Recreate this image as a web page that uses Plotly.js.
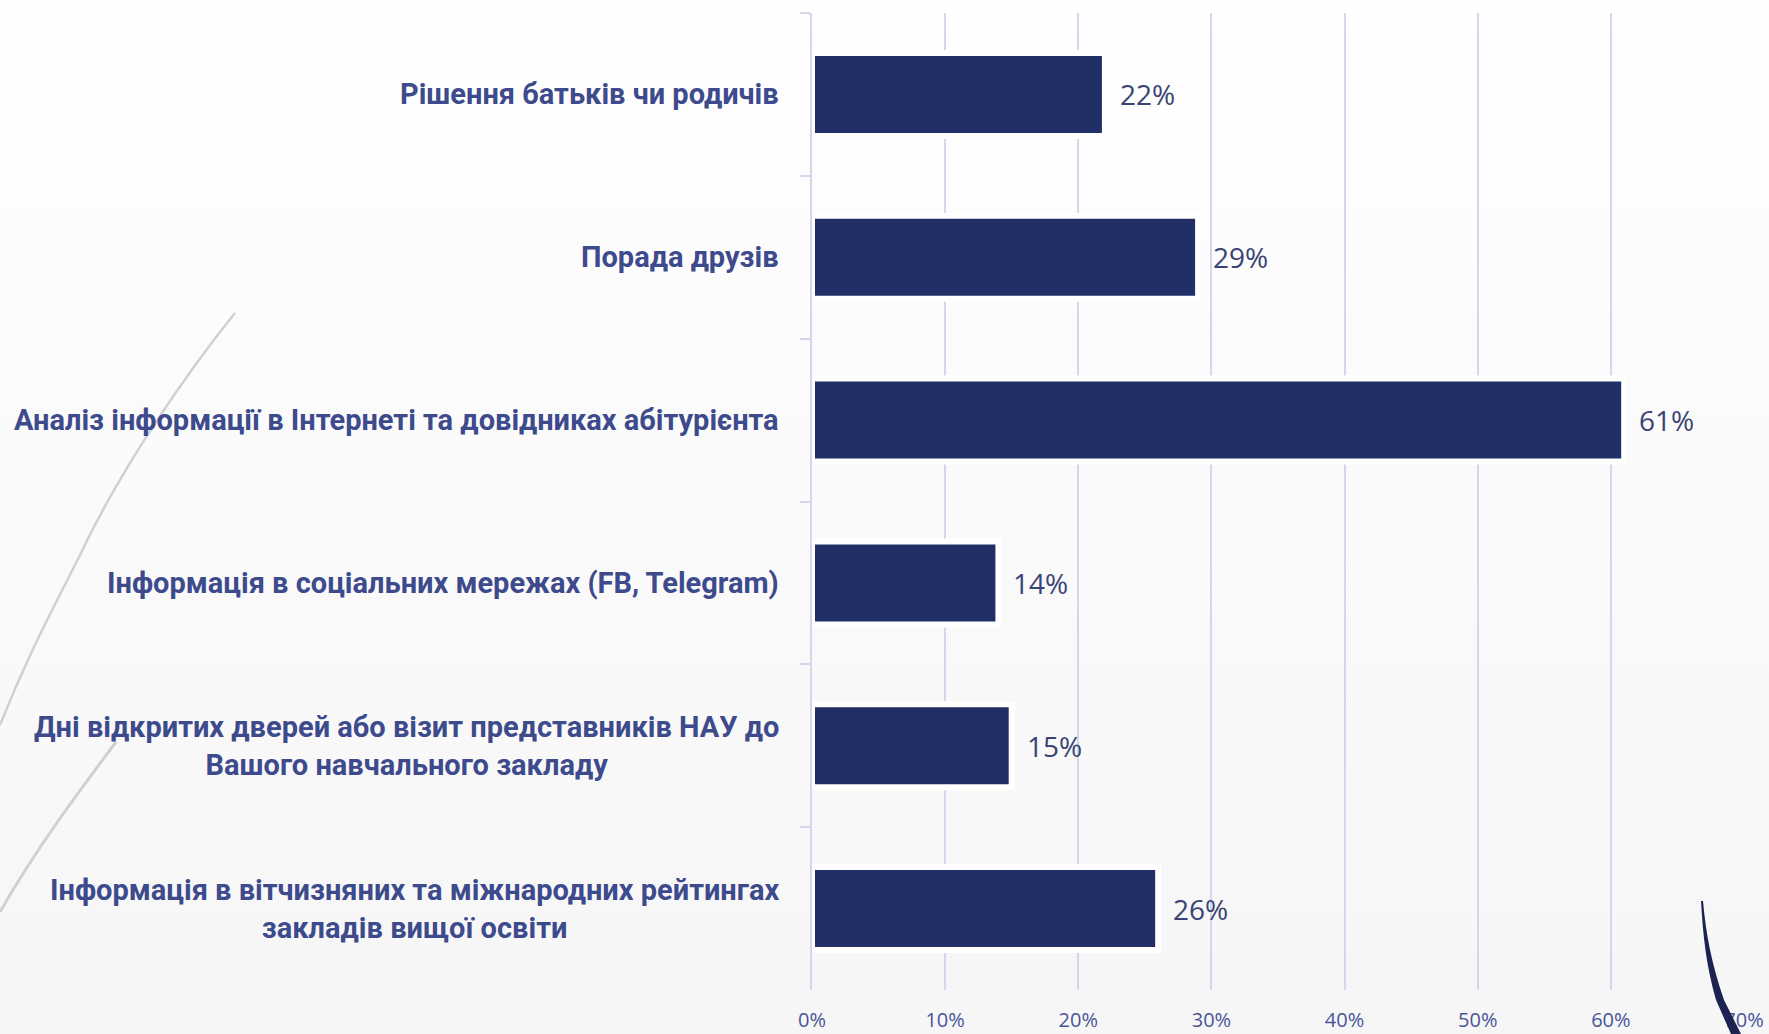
<!DOCTYPE html>
<html>
<head>
<meta charset="utf-8">
<script src="https://cdn.plot.ly/plotly-3.0.1.min.js"></script>
<style>
  html, body { margin:0; padding:0; width:1769px; height:1034px; overflow:hidden;
    background: linear-gradient(to bottom, #ffffff 0%, #fbfbfc 40%, #f6f6f7 100%); }
  #wrap { position:relative; width:1769px; height:1034px; }
  #bg, #fg { position:absolute; left:0; top:0; width:1769px; height:1034px; pointer-events:none; }
  #chart { position:absolute; left:0; top:0; width:1769px; height:1034px; }
</style>
</head>
<body>
<div id="wrap">
  <svg id="bg" viewBox="0 0 1769 1034">
    <path d="M235,313 C185,375 120,470 80,555 C55,605 30,650 0,725" fill="none" stroke="#cfd0d6" stroke-width="2.5"/>
    <path d="M116,742 C80,790 35,850 0,912" fill="none" stroke="#cfd0d6" stroke-width="3"/>
  </svg>
  <div id="chart"></div>
  <svg id="fg" viewBox="0 0 1769 1034">
    <path d="M1701,901 C1703,935 1706,965 1716,1000 L1731,1034 L1741,1034 L1724,1000 C1712,965 1706,935 1703,901 Z" fill="#1c2350"/>
  </svg>
</div>
<script>
const categories = [
  "Рішення батьків чи родичів",
  "Порада друзів",
  "Аналіз інформації в Інтернеті та довідниках абітурієнта",
  "Інформація в соціальних мережах (FB, Telegram)",
  "Дні відкритих дверей або візит представників НАУ до<br>Вашого навчального закладу",
  "Інформація в вітчизняних та міжнародних рейтингах<br>закладів вищої освіти"
];
const values = [22, 29, 61, 14, 15, 26];
const tickValues = [0, 10, 20, 30, 40, 50, 60, 70];
const tickLabels = ["0%", "10%", "20%", "30%", "40%", "50%", "60%", "70%"];

const gridColor = "#d3d6ec";
const labelColor = "#3d4a8c";

const trace = {
  type: "bar",
  orientation: "h",
  x: values,
  y: categories,
  marker: { color: "#212f66", line: { color: "#ffffff", width: 6 } },
  hoverinfo: "none"
};

const annotations = [];
categories.forEach((c, i) => {
  annotations.push({
    x: 0, xref: "paper", y: c, yref: "y",
    xanchor: "right", yanchor: "middle", xshift: -31,
    text: c, showarrow: false, align: "center",
    font: { family: "'Liberation Sans Narrow', Roboto, sans-serif", size: 29, color: labelColor, weight: 700 }
  });
  annotations.push({
    x: values[i], xref: "x", y: c, yref: "y",
    xanchor: "left", yanchor: "middle", xshift: 13,
    text: values[i] + "%", showarrow: false,
    font: { family: "'Open Sans', sans-serif", size: 28, color: "#3a4372" }
  });
});

const layout = {
  width: 1769, height: 1034,
  margin: { l: 812, r: 25, t: 13, b: 44 },
  paper_bgcolor: "rgba(0,0,0,0)",
  plot_bgcolor: "rgba(0,0,0,0)",
  showlegend: false,
  bargap: 0.49,
  xaxis: {
    range: [0, 70], tickvals: tickValues, ticktext: tickLabels,
    showgrid: true, gridcolor: gridColor, gridwidth: 2,
    zeroline: false, showline: false, ticks: "",
    ticklabelstandoff: 16,
    tickfont: { family: "'Open Sans', sans-serif", size: 20, color: "#4a5597" },
    fixedrange: true
  },
  yaxis: {
    type: "category", autorange: "reversed",
    showticklabels: false, showgrid: false, zeroline: false,
    showline: true, linecolor: gridColor, linewidth: 2,
    ticks: "outside", tickson: "boundaries", ticklen: 10, tickcolor: gridColor, tickwidth: 2,
    fixedrange: true
  },
  annotations: annotations
};

Plotly.newPlot("chart", [trace], layout, { displayModeBar: false, staticPlot: true });
</script>
</body>
</html>
